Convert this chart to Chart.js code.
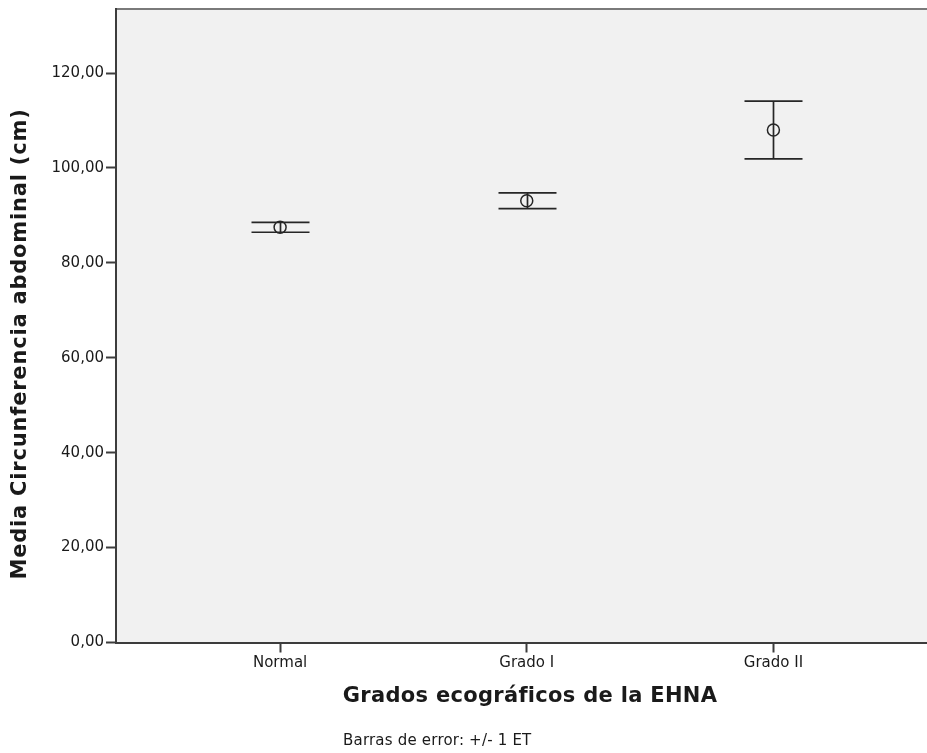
<!DOCTYPE html>
<html>
<head>
<meta charset="utf-8">
<script src="https://cdn.jsdelivr.net/npm/chart.js@4/dist/chart.umd.min.js"></script>
<style>
  html, body { margin: 0; padding: 0; background: #ffffff; overflow: hidden; }
  #wrap { position: relative; width: 927px; height: 753px; overflow: hidden; }
  #chart { position: absolute; left: 0; top: -2px; }
</style>
</head>
<body>
<div id="wrap"><canvas id="chart" width="935" height="755"></canvas></div>
<script>
// Grados ecográficos de EHNA vs. media de circunferencia abdominal (± 1 ET)
const categories = ['Normal', 'Grado I', 'Grado II'];
const means = [87.5, 93.1, 108.0];
const stdErrors = [1.05, 1.65, 6.1];
const yTicks = [0, 20, 40, 60, 80, 100, 120];

const xTitle = 'Grados ecográficos de la EHNA';
const yTitle = 'Media Circunferencia abdominal (cm)';
const footnote = 'Barras de error: +/- 1 ET';

const INK = '#262626';
const AXIS = '#3c3c3c';
const TICK_FONT = { family: 'DejaVu Sans', size: 15 };

const points = means.map((m, i) => ({ x: i + 1, y: m }));

// Plot background and top frame line
const framePlugin = {
  id: 'frame',
  beforeDraw(chart) {
    const { ctx, chartArea: a } = chart;
    ctx.save();
    ctx.fillStyle = '#f1f1f1';
    ctx.fillRect(a.left, a.top, a.right - a.left, a.bottom - a.top);
    ctx.strokeStyle = '#7a7a7a';
    ctx.lineWidth = 2;
    ctx.beginPath();
    ctx.moveTo(a.left, a.top);
    ctx.lineTo(a.right, a.top);
    ctx.stroke();
    ctx.restore();
  }
};

// Vertical error bars with caps: mean ± one standard error
const errorBarPlugin = {
  id: 'errorBars',
  afterDatasetsDraw(chart) {
    const { ctx, scales: { x, y } } = chart;
    const capHalf = 29;
    ctx.save();
    ctx.strokeStyle = INK;
    ctx.lineWidth = 1.7;
    means.forEach((m, i) => {
      const px = Math.round(x.getPixelForValue(i + 1)) + 0.5;
      const top = y.getPixelForValue(m + stdErrors[i]);
      const bot = y.getPixelForValue(m - stdErrors[i]);
      ctx.beginPath();
      ctx.moveTo(px, top);
      ctx.lineTo(px, bot);
      ctx.moveTo(px - capHalf, top);
      ctx.lineTo(px + capHalf, top);
      ctx.moveTo(px - capHalf, bot);
      ctx.lineTo(px + capHalf, bot);
      ctx.stroke();
    });
    ctx.restore();
  }
};

// Axis titles and footnote (canvas sits 2px above the page top)
const labelsPlugin = {
  id: 'textLabels',
  afterDraw(chart) {
    const { ctx } = chart;
    ctx.save();
    ctx.fillStyle = '#1a1a1a';
    ctx.textBaseline = 'middle';
    ctx.textAlign = 'center';

    ctx.font = 'bold 21px "DejaVu Sans"';
    ctx.letterSpacing = '0.3px';
    ctx.fillText(xTitle, 530, 699);

    ctx.save();
    ctx.letterSpacing = '0.8px';
    ctx.translate(21, 346);
    ctx.rotate(-Math.PI / 2);
    ctx.fillText(yTitle, 0, 0);
    ctx.restore();

    ctx.font = '15px "DejaVu Sans"';
    ctx.letterSpacing = '0.2px';
    ctx.textAlign = 'left';
    ctx.fillText(footnote, 343, 743);
    ctx.restore();
  }
};

new Chart(document.getElementById('chart'), {
  type: 'scatter',
  data: {
    datasets: [{
      data: points,
      pointStyle: 'circle',
      pointRadius: 6,
      pointHoverRadius: 6,
      pointBorderWidth: 1.5,
      pointBorderColor: INK,
      pointBackgroundColor: 'rgba(0,0,0,0)'
    }]
  },
  options: {
    responsive: false,
    animation: false,
    devicePixelRatio: 1,
    layout: { padding: { top: 9, right: 0, bottom: 0, left: 0 } },
    plugins: {
      legend: { display: false },
      tooltip: { enabled: false }
    },
    scales: {
      x: {
        type: 'linear',
        min: 0.3347,
        max: 3.6247,
        afterBuildTicks(scale) {
          scale.ticks = categories.map((c, i) => ({ value: i + 1 }));
        },
        afterFit(scale) { scale.height = 110.5; },
        ticks: {
          callback: (v) => categories[v - 1] ?? '',
          color: '#1a1a1a',
          font: TICK_FONT,
          padding: 2,
          maxRotation: 0,
          autoSkip: false
        },
        grid: {
          drawOnChartArea: false,
          drawTicks: true,
          tickLength: 10,
          tickColor: AXIS,
          tickWidth: 2
        },
        border: { display: true, color: AXIS, width: 2 }
      },
      y: {
        type: 'linear',
        min: 0,
        max: 133.5,
        afterBuildTicks(scale) {
          scale.ticks = yTicks.map(v => ({ value: v }));
        },
        afterFit(scale) { scale.width = 116; },
        ticks: {
          callback: (v) => v.toFixed(2).replace('.', ','),
          color: '#1a1a1a',
          font: TICK_FONT,
          padding: 2
        },
        grid: {
          drawOnChartArea: false,
          drawTicks: true,
          tickLength: 10,
          tickColor: AXIS,
          tickWidth: 2
        },
        border: { display: true, color: AXIS, width: 2 }
      }
    }
  },
  plugins: [framePlugin, errorBarPlugin, labelsPlugin]
});
</script>
</body>
</html>
